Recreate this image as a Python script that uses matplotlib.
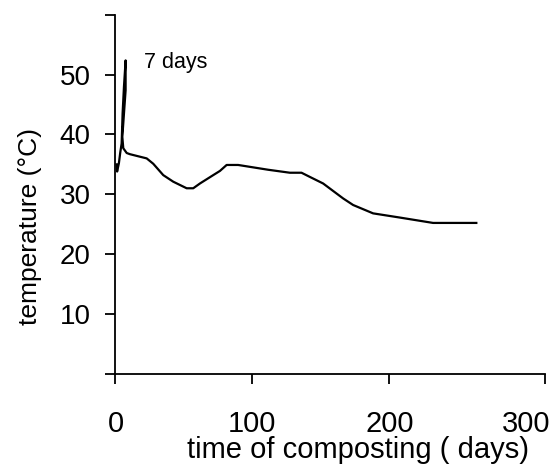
import matplotlib
matplotlib.use('Agg')
import matplotlib.pyplot as plt
from matplotlib.ticker import FixedLocator

plt.rcParams['font.family'] = ['Liberation Sans', 'DejaVu Sans']

# compost temperature record (days, degC)
days = [0.8, 1.2, 2.5, 3.5, 4.5, 5.2, 6.2, 7.4, 7.4, 5.0, 5.7, 8.2, 10.6,
        22.8, 27.6, 34.9, 42.2, 52.0, 56.8, 61.7, 71.4, 76.3, 81.2, 89.6,
        111.5, 127.4, 135.9, 142.0, 151.7, 166.3, 173.6, 188.2, 207.7,
        232.0, 263.6]
temp = [35.0, 33.8, 35.2, 37.0, 38.5, 43.5, 48.0, 52.4, 47.4, 39.6, 37.7,
        36.9, 36.7, 36.0, 35.1, 33.2, 32.1, 31.0, 31.0, 31.8, 33.2, 33.9,
        34.9, 34.9, 34.1, 33.6, 33.6, 32.9, 31.8, 29.3, 28.2, 26.8, 26.1,
        25.2, 25.2]

x_ticks = [0, 100, 200, 300]
y_ticks = [0, 10, 20, 30, 40, 50, 60]
y_labels = ['', '10', '20', '30', '40', '50', '']
x_end = 314

fig = plt.figure(figsize=(5.52, 4.74), dpi=100)
ax = fig.add_axes([0.2092, 0.212, 0.7787, 0.7564])

ax.plot(days, temp, color='black', linewidth=1.6)
ax.text(21, 52, '7 days', fontsize=15.5, ha='left', va='center')

ax.set_xlim(0, x_end)
ax.set_ylim(0, 60)
ax.set_xticks(x_ticks)
ax.xaxis.set_minor_locator(FixedLocator([x_end]))
ax.set_yticks(y_ticks)
ax.set_yticklabels(y_labels)

for side in ['top', 'right']:
    ax.spines[side].set_visible(False)
for side in ['left', 'bottom']:
    ax.spines[side].set_linewidth(1.3)

ax.tick_params(axis='x', which='both', direction='out', length=7, width=1.3,
               labelsize=21, pad=19)
ax.tick_params(axis='y', direction='out', length=7, width=1.3,
               labelsize=20, pad=11)
# the axis ends past 300, so the 300 label sits without its own tick mark
ax.xaxis.get_major_ticks()[-1].tick1line.set_visible(False)

ax.set_xlabel('time of composting ( days)', fontsize=21)
ax.xaxis.set_label_coords(0.564, -0.175)
ax.set_ylabel('temperature (°C)', fontsize=19)
ax.yaxis.set_label_coords(-0.171, 0.41)

fig.savefig('out.png', dpi=100)
